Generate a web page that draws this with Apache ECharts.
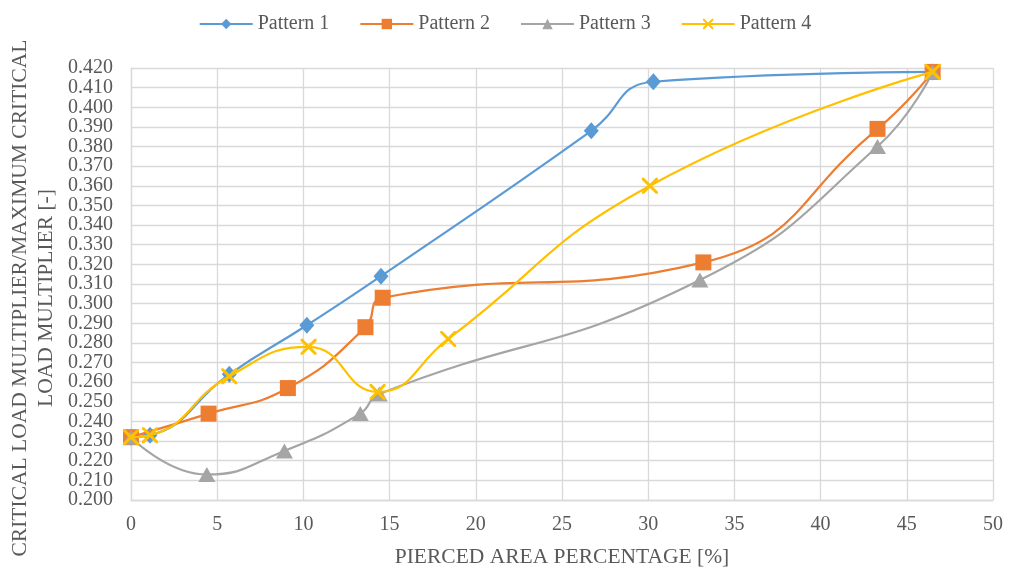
<!DOCTYPE html>
<html>
<head>
<meta charset="utf-8">
<script src="https://cdn.jsdelivr.net/npm/echarts@6/dist/echarts.min.js"></script>
<style>
  html, body { margin: 0; padding: 0; background: #ffffff; }
  #chart { width: 1010px; height: 575px; }
</style>
</head>
<body>
<div id="chart"></div>
<script>
// Pierced area percentage [%] vs. normalised critical load multiplier
const seriesNames = ['Pattern 1', 'Pattern 2', 'Pattern 3', 'Pattern 4'];

const pattern1 = [[0, 0.232], [1.1, 0.233], [5.7, 0.264], [10.2, 0.289], [14.5, 0.314], [26.7, 0.388], [30.3, 0.413], [46.5, 0.418]];
const pattern2 = [[0, 0.232], [4.5, 0.244], [9.1, 0.257], [13.6, 0.288], [14.6, 0.303], [33.2, 0.321], [43.3, 0.389], [46.5, 0.418]];
const pattern3 = [[0, 0.232], [4.4, 0.213], [8.9, 0.225], [13.3, 0.244], [14.4, 0.254], [33.0, 0.312], [43.3, 0.380], [46.5, 0.418]];
const pattern4 = [[0, 0.232], [1.1, 0.233], [5.7, 0.263], [10.3, 0.278], [14.3, 0.255], [18.4, 0.282], [30.1, 0.360], [46.5, 0.418]];

const xTicks = [0, 5, 10, 15, 20, 25, 30, 35, 40, 45, 50];
const yRange = [0.200, 0.420];

const xTitle = 'PIERCED AREA PERCENTAGE [%]';
const yTitle = 'CRITICAL LOAD MULTIPLIER/MAXIMUM CRITICAL\nLOAD MULTIPLIER [-]';

const colors = ['#5B9BD5', '#ED7D31', '#A5A5A5', '#FFC000'];
const crossPath = 'path://M0,0 L1.3,0 L5,3.7 L8.7,0 L10,0 L10,1.3 L6.3,5 L10,8.7 L10,10 L8.7,10 L5,6.3 L1.3,10 L0,10 L0,8.7 L3.7,5 L0,1.3 Z';
const symbols = ['diamond', 'rect', 'triangle', crossPath];
const symbolSizes = [[15, 17], 16, [17, 15], 16];
const datasets = [pattern1, pattern2, pattern3, pattern4];

const font = '"Liberation Serif", "Times New Roman", serif';
const textColor = '#595959';
const gridColor = '#d9d9d9';

const yLabelStyle = { fontFamily: font, fontSize: 20, color: textColor, margin: 18 };
const isEnd = v => Math.abs(v - yRange[0]) < 1e-9 || Math.abs(v - yRange[1]) < 1e-9;

const chart = echarts.init(document.getElementById('chart'), null, { renderer: 'canvas' });

chart.setOption({
  animation: false,
  color: colors,
  textStyle: { fontFamily: font },
  legend: {
    top: 9,
    left: 'center',
    itemWidth: 53,
    itemHeight: 13,
    itemGap: 30,
    textStyle: { fontFamily: font, fontSize: 20, color: textColor },
    data: seriesNames
  },
  grid: { left: 131, right: 17, top: 68, bottom: 75, containLabel: false, outerBoundsMode: 'none' },
  xAxis: {
    type: 'value',
    min: xTicks[0],
    max: xTicks[xTicks.length - 1],
    interval: 5,
    name: xTitle,
    nameLocation: 'middle',
    nameGap: 46,
    nameTextStyle: { fontFamily: font, fontSize: 21.5, color: textColor },
    axisLine: { lineStyle: { color: gridColor, width: 1.3 } },
    axisTick: { show: false },
    axisLabel: { fontFamily: font, fontSize: 20, color: textColor, margin: 15, showMinLabel: true, showMaxLabel: true },
    splitLine: { show: true, lineStyle: { color: gridColor, width: 1.3 } }
  },
  yAxis: [{
    // inner tick labels 0.210 … 0.410, grid lines and axis line
    type: 'value',
    position: 'left',
    offset: 0,
    min: yRange[0],
    max: yRange[1],
    interval: 0.01,
    axisLine: { show: true, lineStyle: { color: gridColor, width: 1.3 } },
    axisTick: { show: false },
    axisLabel: Object.assign({}, yLabelStyle, {
      showMinLabel: false, showMaxLabel: false,
      formatter: v => v.toFixed(3)
    }),
    splitLine: { show: true, lineStyle: { color: gridColor, width: 1.3 } }
  }, {
    // end labels 0.200 and 0.420
    type: 'value',
    position: 'left',
    offset: 0,
    min: yRange[0],
    max: yRange[1],
    interval: 0.01,
    axisLine: { show: false },
    axisTick: { show: false },
    splitLine: { show: false },
    axisLabel: Object.assign({}, yLabelStyle, {
      showMinLabel: true, showMaxLabel: true,
      formatter: v => (isEnd(v) ? v.toFixed(3) : '')
    })
  }],
  // vertical axis title, two centred lines
  graphic: [{
    type: 'text',
    x: 33,
    y: 298,
    rotation: Math.PI / 2,
    style: {
      text: yTitle,
      fontFamily: font,
      fontSize: 21.5,
      lineHeight: 26,
      fill: textColor,
      align: 'center',
      verticalAlign: 'middle'
    }
  }],
  series: datasets.map((d, i) => ({
    name: seriesNames[i],
    type: 'line',
    data: d,
    smooth: 0.5,
    symbol: symbols[i],
    symbolSize: symbolSizes[i],
    showAllSymbol: true,
    lineStyle: { width: 2.2, color: colors[i] },
    itemStyle: { color: colors[i] },
    z: 2 + i
  }))
});
</script>
</body>
</html>
